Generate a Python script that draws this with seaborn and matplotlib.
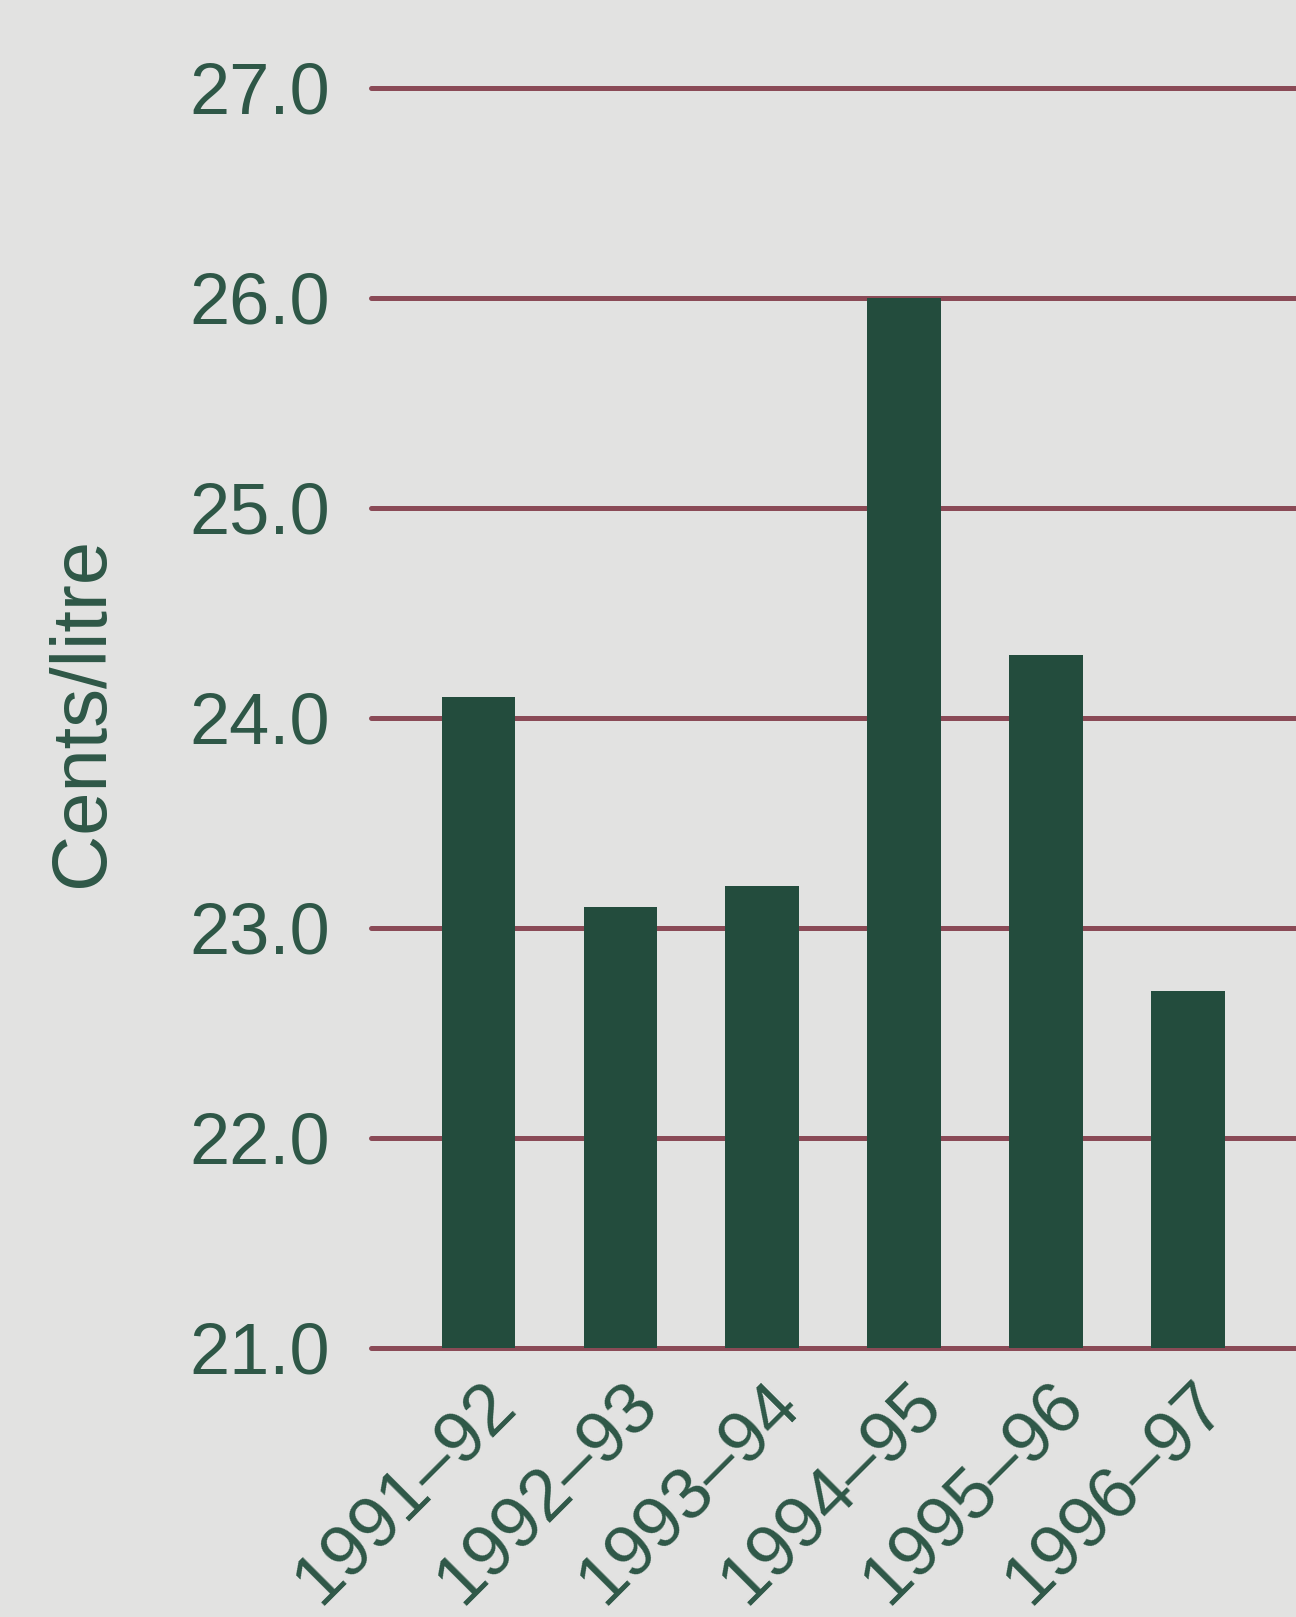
import matplotlib
matplotlib.use("Agg")
import matplotlib.pyplot as plt
import matplotlib.transforms as mtransforms
import seaborn as sns
import pandas as pd

# Average price, cents per litre, by financial year
years = ["1991–92", "1992–93", "1993–94", "1994–95", "1995–96", "1996–97"]
cents_per_litre = [24.1, 23.1, 23.2, 26.0, 24.3, 22.7]
y_ticks = [21.0, 22.0, 23.0, 24.0, 25.0, 26.0, 27.0]

BG = "#e2e2e1"
BAR = "#234c3d"
GRID = "#8a4a56"
TEXT = "#2e5747"
FONT = ["Liberation Sans", "DejaVu Sans"]

sns.set_theme(style="white")
plt.rcParams["font.family"] = FONT

df = pd.DataFrame({"year": years, "value": cents_per_litre})

fig = plt.figure(figsize=(12.96, 16.17), dpi=100, facecolor=BG)
ax = fig.add_axes([0.286, 0.1664, 0.714, 0.7792])
ax.set_facecolor(BG)

# horizontal rules at each tick value, drawn behind the bars
for v in y_ticks:
    ax.axhline(v, color=GRID, lw=3.6, zorder=1, clip_on=False)

sns.barplot(data=df, x="year", y="value", color=BAR, width=0.52,
            saturation=1, ax=ax, zorder=2, edgecolor="none")

ax.set_ylim(21.0, 27.0)
ax.set_xlim(-0.76, 5.76)
ax.set_yticks(y_ticks)
ax.set_yticklabels([f"{v:.1f}" for v in y_ticks])
ax.tick_params(axis="y", length=0, pad=29, labelsize=52, labelcolor=TEXT)
ax.tick_params(axis="x", length=0, pad=16, labelsize=52, labelcolor=TEXT)
shift = mtransforms.ScaledTranslation(0.03, 0, fig.dpi_scale_trans)
for lbl in ax.get_xticklabels():
    lbl.set_rotation(45)
    lbl.set_ha("right")
    lbl.set_va("top")
    lbl.set_rotation_mode("anchor")
    lbl.set_transform(lbl.get_transform() + shift)

ax.set_xlabel("")
ax.set_ylabel("Cents/litre", fontsize=56, color=TEXT)
ax.yaxis.set_label_coords(-0.272, 0.505)
for s in ax.spines.values():
    s.set_visible(False)

fig.savefig("out.png", dpi=100, facecolor=BG)
